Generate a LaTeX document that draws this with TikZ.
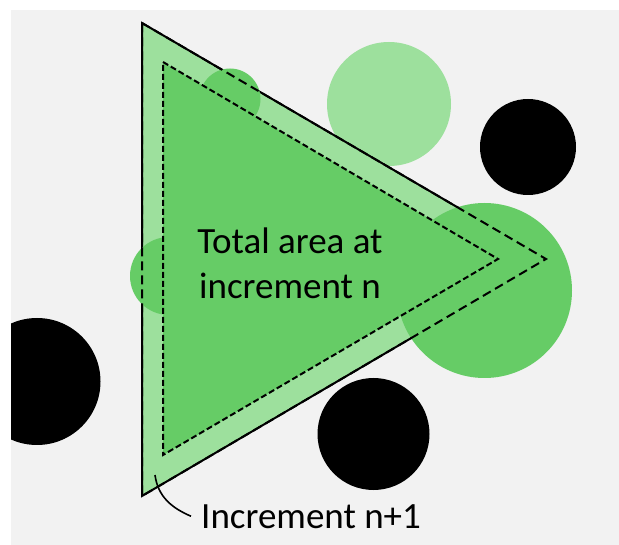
\documentclass[tikz,border=0pt]{standalone}
\usepackage{fontspec}
\setmainfont{Carlito}
\definecolor{bggray}{HTML}{F2F2F2}
\definecolor{lightgr}{HTML}{9DE09D}
\definecolor{midgr}{HTML}{66CC66}
\tikzset{
  solidedge/.style={draw=black, line width=2pt, line join=miter},
  outerdash/.style={draw=black, line width=2pt, dash pattern=on 9pt off 5pt},
  innerdash/.style={draw=black, line width=2pt, dash pattern=on 6pt off 3pt},
  lbl/.style={font=\fontsize{37}{45}\selectfont, inner sep=0pt, text=black}
}
\begin{document}
\begin{tikzpicture}[x=1pt, y=-1pt]
\useasboundingbox (0,0) rectangle (619,545);
\fill[white] (0,0) rectangle (619,545);
\fill[bggray] (11,10) rectangle (619,545);
% triangle vertices
\coordinate (oT) at (142,23);
\coordinate (oB) at (142,496);
\coordinate (oR) at (546,259);
\coordinate (iT) at (163,62);
\coordinate (iB) at (163,455);
\coordinate (iR) at (498,259);
\begin{scope}
\clip (11,10) rectangle (619,545);
\fill[lightgr] (389,104) circle (62);
\fill[black] (528,147) circle (48);
\fill[black] (373.5,434) circle (56);
\fill[black] (37,381.5) circle (63.5);
\end{scope}
% increment n+1 band
\filldraw[fill=lightgr, solidedge] (oT) -- (oR) -- (oB) -- cycle;
% circles already counted
\fill[midgr] (230,99) circle (30.5);
\fill[midgr] (169,276) circle (39);
\fill[midgr] (484.5,290.5) circle (87.5);
% area at increment n
\fill[midgr] (iT) -- (iR) -- (iB) -- cycle;
\draw[outerdash] (oT) -- (oR) -- (oB) -- cycle;
\draw[innerdash] (iT) -- (iR) -- (iB) -- cycle;
% labels
\node[lbl, align=center] (tot) at (290,263) {Total area at\\increment n};
\node[lbl, anchor=base west] (inc) at (201,528) {Increment n+1};
\coordinate (p1) at (155,475);
\draw[black, line width=1.6pt] (p1) .. controls (158,497) and (172,508) .. ([xshift=-10pt]inc.west);
\end{tikzpicture}
\end{document}
